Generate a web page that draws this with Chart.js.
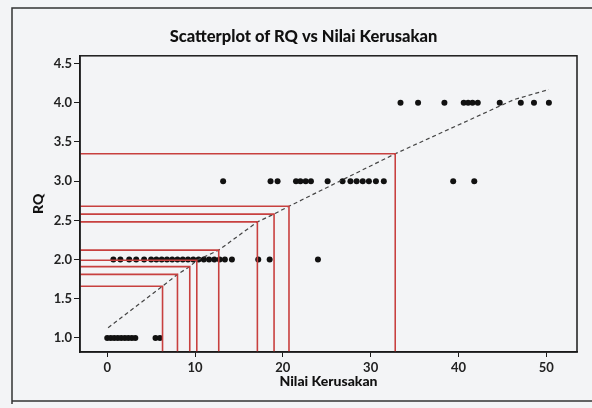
<!DOCTYPE html>
<html>
<head>
<meta charset="utf-8">
<script src="https://cdn.jsdelivr.net/npm/chart.js@4.4.1/dist/chart.umd.min.js"></script>
<style>
  html, body { margin: 0; padding: 0; background: #f3f4f6; }
  #wrap { width: 592px; height: 408px; }
</style>
</head>
<body>
<div id="wrap"><canvas id="chart" width="592" height="408"></canvas></div>
<script>
// data
const rq1X = [0, 0.4, 0.8, 1.2, 1.6, 2.0, 2.4, 2.8, 3.2, 5.5, 6.0];
const rq2X = [0.7, 1.5, 2.5, 3.3, 4.2, 5.0, 5.6, 6.2, 6.8, 7.4, 8.0, 8.6, 9.2, 9.8, 10.4, 11.0, 11.6, 12.2, 12.8, 13.4, 14.2, 17.2, 18.5, 24.0];
const rq3X = [13.2, 18.6, 19.4, 21.5, 22.0, 22.6, 23.2, 25.1, 26.8, 27.7, 28.4, 29.1, 29.8, 30.6, 31.5, 39.4, 41.8];
const rq4X = [33.4, 35.4, 38.4, 40.6, 41.1, 41.6, 42.2, 44.7, 47.1, 48.6, 50.3];

// dashed fit line
const fitX = [0.1, 6.3, 8.0, 9.4, 10.2, 12.7, 17.1, 19.0, 20.7, 32.8, 46.3, 50.3];
const fitY = [1.13, 1.66, 1.81, 1.91, 1.99, 2.12, 2.48, 2.58, 2.68, 3.35, 4.04, 4.17];

// red guide lines (x on the fit, y read on the axis)
const guideX = [6.3, 8.0, 9.4, 10.2, 12.7, 17.1, 19.0, 20.7, 32.8];
const guideY = [1.66, 1.81, 1.91, 1.99, 2.12, 2.48, 2.58, 2.68, 3.35];

const xTicks = [0, 10, 20, 30, 40, 50];
const yTicks = [1.0, 1.5, 2.0, 2.5, 3.0, 3.5, 4.0, 4.5];
const xMin = -3.1, xMax = 53.5;
const yMin = 0.82, yMax = 4.6;

const ink = "#1a1a1a";

const points = [];
[[rq1X, 1], [rq2X, 2], [rq3X, 3], [rq4X, 4]].forEach(([xs, y]) => {
    xs.forEach((x) => points.push({ x: x, y: y }));
});

const datasets = [];
guideX.forEach((gx, i) => {
    datasets.push({
        type: "line",
        data: [{ x: xMin, y: guideY[i] }, { x: gx, y: guideY[i] }, { x: gx, y: yMin }],
        borderColor: "#c8403f",
        borderWidth: 1.6,
        pointRadius: 0,
        fill: false,
        tension: 0,
    });
});
datasets.push({
    type: "line",
    data: fitX.map((x, i) => ({ x: x, y: fitY[i] })),
    borderColor: "#444",
    borderWidth: 1.2,
    borderDash: [4, 3],
    pointRadius: 0,
    fill: false,
    tension: 0,
});
datasets.push({
    type: "scatter",
    data: points,
    backgroundColor: "#111",
    borderColor: "#111",
    pointRadius: 3,
    borderWidth: 0,
});

// page background, outer frame and box round the plot
const frame = {
    id: "frame",
    beforeDraw(chart) {
        const c = chart.ctx;
        c.save();
        c.fillStyle = "#f3f4f6";
        c.fillRect(0, 0, chart.width, chart.height);
        c.strokeStyle = "#333";
        c.lineWidth = 1.5;
        c.beginPath();
        c.moveTo(12, 404);
        c.lineTo(12, 8);
        c.lineTo(592, 8);
        c.moveTo(12, 401);
        c.lineTo(592, 401);
        c.stroke();
        c.restore();
    },
    afterDraw(chart) {
        const a = chart.chartArea;
        const c = chart.ctx;
        c.save();
        c.strokeStyle = ink;
        c.lineWidth = 1.5;
        c.strokeRect(a.left, a.top, a.right - a.left, a.bottom - a.top);
        c.restore();
    },
};

new Chart(document.getElementById("chart").getContext("2d"), {
    data: { datasets: datasets },
    plugins: [frame],
    options: {
        responsive: false,
        animation: false,
        devicePixelRatio: 1,
        layout: { padding: { left: 30, right: 15, top: 0, bottom: 8 } },
        plugins: {
            legend: { display: false },
            tooltip: { enabled: false },
            title: {
                display: true,
                text: "Scatterplot of RQ vs Nilai Kerusakan",
                color: "#111",
                font: { family: "Lato", size: 16.5, weight: "900" },
                padding: { top: 27, bottom: 9 },
            },
        },
        scales: {
            x: {
                type: "linear",
                min: xMin,
                max: xMax,
                afterBuildTicks: (s) => { s.ticks = xTicks.map((v) => ({ value: v })); },
                afterFit: (s) => { s.height = 48; },
                grid: { drawOnChartArea: false, drawTicks: true, tickLength: 5, color: ink },
                border: { display: true, color: ink, width: 1.5 },
                ticks: { color: "#222", font: { family: "Lato", size: 13, weight: "bold" }, padding: 3 },
                title: {
                    display: true,
                    text: "Nilai Kerusakan",
                    color: "#111",
                    font: { family: "Lato", size: 14, weight: "900" },
                    padding: { top: 2, bottom: 10 },
                },
            },
            y: {
                type: "linear",
                min: yMin,
                max: yMax,
                afterBuildTicks: (s) => { s.ticks = yTicks.map((v) => ({ value: v })); },
                afterFit: (s) => { s.width = 50; },
                grid: { drawOnChartArea: false, drawTicks: true, tickLength: 6, color: ink },
                border: { display: true, color: ink, width: 1.5 },
                ticks: {
                    color: "#222",
                    font: { family: "Lato", size: 13, weight: "bold" },
                    padding: 2,
                    callback: (v) => Number(v).toFixed(1),
                },
                title: {
                    display: true,
                    text: "RQ",
                    color: "#111",
                    font: { family: "Lato", size: 14, weight: "900" },
                    padding: { top: 0, bottom: 0 },
                },
            },
        },
    },
});
</script>
</body>
</html>
